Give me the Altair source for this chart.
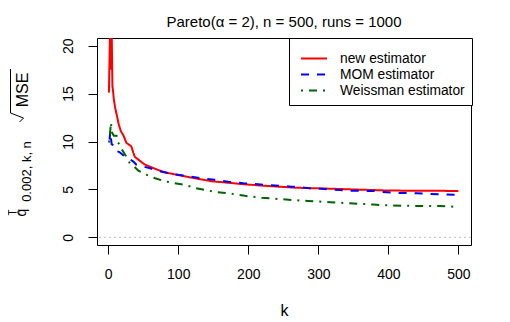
import altair as alt
import pandas as pd

FONT = "Liberation Sans"

series_names = ["new estimator", "MOM estimator", "Weissman estimator"]
series_colors = ["#FF0000", "#0000FF", "#006400"]
series_dashes = [[1, 0], [8, 8], [2, 6, 8, 6]]

k_new = [1, 2, 3, 4, 5, 6, 7, 8, 10, 13, 15, 18, 22, 26, 29, 33, 36, 38, 45,
         52, 57, 67, 76, 81, 100, 124, 148, 171, 195, 219, 243, 267, 314, 357,
         402, 500]
v_new = [15.1, 19.0, 23.0, 17.5, 21.5, 15.8, 15.2, 14.4, 13.5, 12.5, 11.8,
         11.1, 10.6, 9.85, 9.7, 9.5, 8.8, 8.4, 8.0, 7.6, 7.45, 7.15, 6.9, 6.78,
         6.5, 6.16, 5.85, 5.7, 5.53, 5.4, 5.29, 5.18, 5.08, 4.98, 4.88, 4.84]

k_mom = [2, 3, 4, 5, 8, 10, 12, 16, 21, 26, 32, 36, 40, 52, 60, 71, 80, 93,
         112, 133, 152, 171, 193, 214, 238, 262, 274, 290, 305, 320, 330, 345,
         380, 390, 410, 440, 460, 480, 500]
v_mom = [10.2, 11.1, 10.3, 9.7, 9.6, 9.1, 9.0, 8.9, 8.6, 8.25, 8.1, 7.9, 7.6,
         7.35, 7.2, 6.95, 6.8, 6.6, 6.4, 6.16, 6.0, 5.8, 5.64, 5.53, 5.4, 5.29,
         5.25, 5.1, 5.08, 4.96, 4.94, 4.86, 4.84, 4.74, 4.64, 4.6, 4.53, 4.46,
         4.45]

k_weiss = [1, 2, 3, 4, 5, 8, 12, 14, 17, 20, 26, 31, 37, 43, 52, 67, 81, 95,
           110, 124, 138, 152, 171, 195, 219, 243, 262, 285, 317, 345, 379,
           402, 426, 445, 474, 493, 500]
v_weiss = [9.9, 10.2, 11.2, 12.0, 11.0, 10.6, 10.6, 9.9, 9.6, 9.1, 8.4, 7.7,
           7.4, 6.96, 6.6, 6.16, 5.85, 5.64, 5.46, 5.15, 4.95, 4.75, 4.6, 4.33,
           4.14, 4.0, 3.9, 3.8, 3.66, 3.55, 3.42, 3.32, 3.3, 3.27, 3.26, 3.2,
           3.18]

x_ticks = [0, 100, 200, 300, 400, 500]
y_ticks = [0, 5, 10, 15, 20]
zero_level = [0]

rows = []
for name, ks, vs in zip(series_names, [k_new, k_mom, k_weiss],
                        [v_new, v_mom, v_weiss]):
    for k, v in zip(ks, vs):
        rows.append({"series": name, "k": k, "value": v})
df = pd.DataFrame(rows)

x_scale = alt.Scale(domain=[-16, 518], nice=False, zero=False)
y_scale = alt.Scale(domain=[-0.8, 20.8], nice=False, zero=False)

y_axis = alt.Axis(values=y_ticks, tickSize=9, tickColor="black",
                  domain=False, grid=False, labelFont=FONT,
                  labelFontSize=14, labelColor="black",
                  labelPadding=13, labelAngle=270,
                  labelAlign="center", labelBaseline="bottom")

legend = alt.Legend(
    title=" ", titleFontSize=5, titlePadding=1,
    orient="none", legendX=192, legendY=0,
    strokeColor="black", fillColor="white", padding=7,
    symbolType="M-2,0H2", symbolSize=169, symbolStrokeWidth=2,
    symbolOffset=10.5,
    labelFont=FONT, labelFontSize=13.8, labelColor="black", labelOffset=18.5,
    rowPadding=1,
)

lines = alt.Chart(df).mark_line(strokeWidth=2, clip=True).encode(
    x=alt.X("k:Q", scale=x_scale, title="k",
            axis=alt.Axis(values=x_ticks, tickSize=9, tickColor="black",
                          domain=False, grid=False, labelFont=FONT,
                          labelFontSize=14, labelColor="black",
                          labelPadding=13, titleFont=FONT, titleFontSize=16,
                          titleFontWeight="normal", titleColor="black",
                          titleY=70, titleBaseline="alphabetic")),
    y=alt.Y("value:Q", scale=y_scale, title=None, axis=y_axis),
    color=alt.Color("series:N", sort=series_names, legend=legend,
                    scale=alt.Scale(domain=series_names, range=series_colors)),
    strokeDash=alt.StrokeDash("series:N", sort=series_names, legend=legend,
                              scale=alt.Scale(domain=series_names,
                                              range=series_dashes)),
)

zero = alt.Chart(pd.DataFrame({"y": zero_level})).mark_rule(
    color="#BEBEBE", strokeDash=[2, 3], strokeWidth=1
).encode(y=alt.Y("y:Q", scale=y_scale, title=None, axis=y_axis))

one = pd.DataFrame({"t": [0]})


def lab(text, x, y, size):
    return alt.Chart(one).mark_text(
        text=text, angle=270, font=FONT, fontSize=size, align="center",
        baseline="middle", color="black"
    ).encode(x=alt.value(x), y=alt.value(y))


def vstroke(x, y1, y2):
    return alt.Chart(one).mark_rule(color="black", strokeWidth=1).encode(
        x=alt.value(x), y=alt.value(y1), y2=alt.value(y2))


def dstroke(x1, x2, y1, y2):
    return alt.Chart(one).mark_rule(color="black", strokeWidth=1).encode(
        x=alt.value(x1), x2=alt.value(x2), y=alt.value(y1), y2=alt.value(y2))


ylab = [
    lab("q", -74.7, 174.5, 14),
    lab("^", -77.5, 174.5, 9),
    lab("T", -84.5, 174.5, 10),
    lab("0.002, k, n", -69.9, 133.5, 13),
    lab("MSE", -74.3, 52, 16),
    vstroke(-86.5, 31, 75),
    dstroke(-86.5, -73.5, 75, 80),
    dstroke(-73.5, -77.5, 80, 84),
]

chart = alt.layer(zero, lines, *ylab).properties(
    width=374, height=207,
    autosize=alt.AutoSizeParams(type="none"),
    padding={"left": 89, "top": 30, "right": 31, "bottom": 76},
    title=alt.TitleParams(
        text="Pareto(\u03b1 = 2), n = 500, runs = 1000", font=FONT,
        fontSize=15, fontWeight="normal", color="black", anchor="middle",
        baseline="alphabetic", offset=-4),
).configure_view(stroke="black", strokeWidth=1)

chart.save("out.html", embed_options={"renderer": "svg", "actions": False})
